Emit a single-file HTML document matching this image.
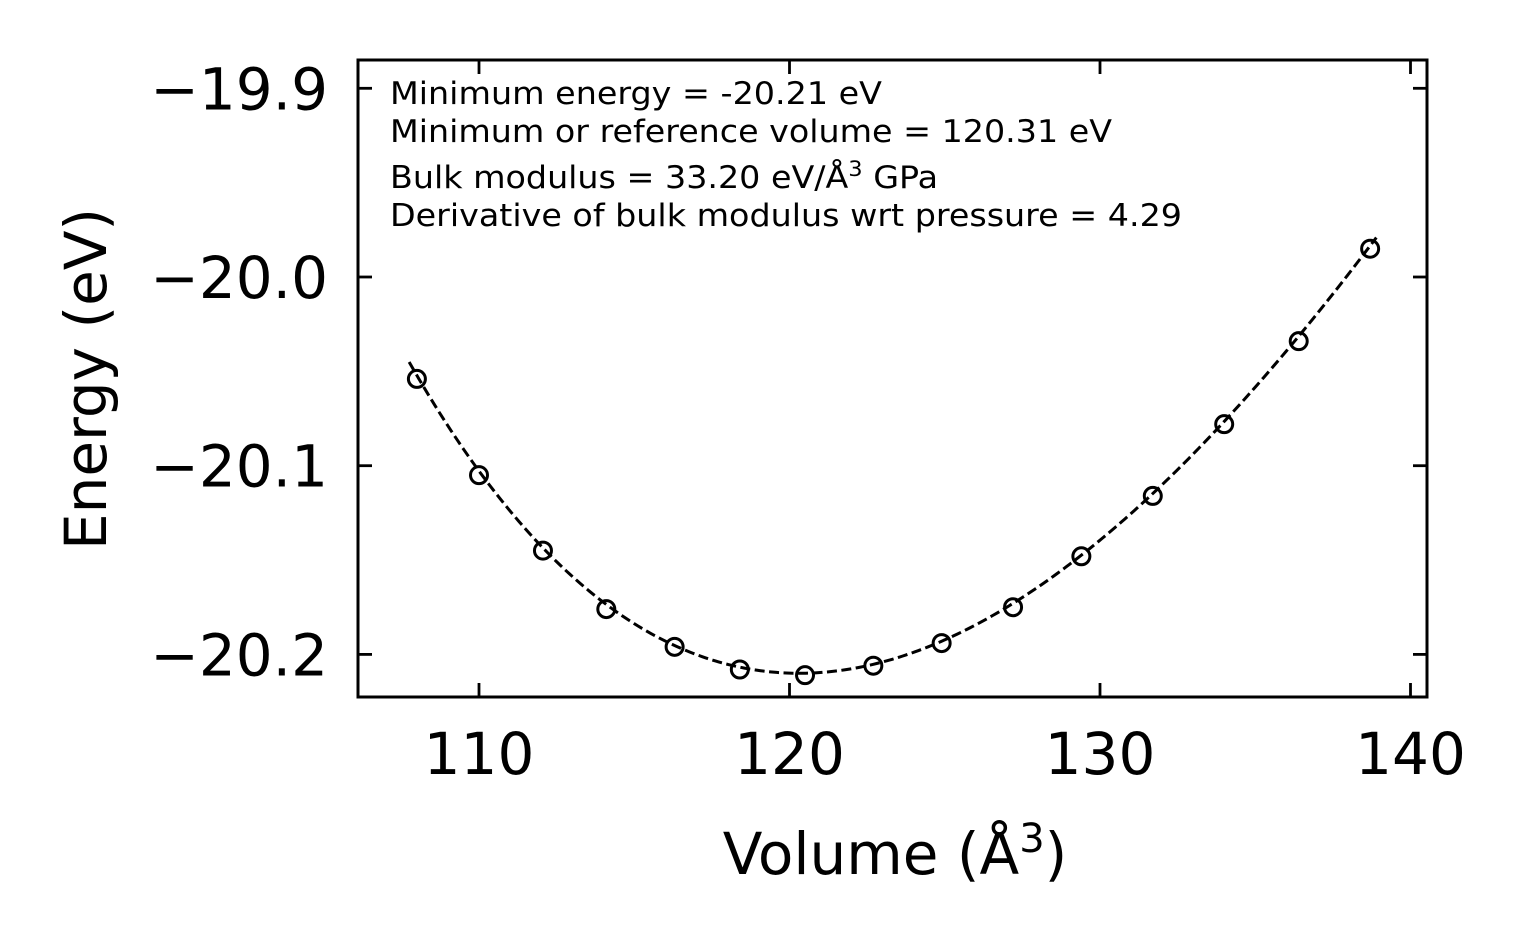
<!DOCTYPE html>
<html><head><meta charset="utf-8"><style>
html,body{margin:0;padding:0;background:#fff;}
svg{display:block;font-family:"DejaVu Sans","Liberation Sans",sans-serif;}
</style></head><body>
<svg id="chart" width="1525" height="943" xmlns="http://www.w3.org/2000/svg">
<rect x="0" y="0" width="1525" height="943" fill="#fff"/>
<g id="plot"></g>
<g id="axes"></g>
<g font-size="31" fill="#000">
<text x="390" y="104" textLength="492" lengthAdjust="spacingAndGlyphs">Minimum energy = -20.21 eV</text>
<text x="390" y="142" textLength="722" lengthAdjust="spacingAndGlyphs">Minimum or reference volume = 120.31 eV</text>
<text x="390" y="188" transform="translate(390,0) scale(1.075,1) translate(-390,0)">Bulk modulus = 33.20 eV/Å<tspan dy="-12" font-size="21">3</tspan><tspan dy="12"> GPa</tspan></text>
<text x="390" y="226" textLength="792" lengthAdjust="spacingAndGlyphs">Derivative of bulk modulus wrt pressure = 4.29</text>
</g>
<text x="895" y="874" font-size="58" text-anchor="middle">Volume (Å<tspan dy="-22" font-size="40">3</tspan><tspan dy="22">)</tspan></text>
<text transform="translate(106,379) rotate(-90)" font-size="58" text-anchor="middle">Energy (eV)</text>
</svg>
<script>
const volumes=[108.0,110.0,112.06,114.1,116.3,118.4,120.5,122.7,124.9,127.2,129.4,131.7,134.0,136.4,138.7];
const energies=[-20.054,-20.105,-20.145,-20.176,-20.196,-20.208,-20.211,-20.206,-20.194,-20.175,-20.148,-20.116,-20.078,-20.034,-19.985];
const fitParams=[-20.21,120.31,33.20,4.29];
const xTicks=[110,120,130,140];
const yTicks=[-19.9,-20.0,-20.1,-20.2];
const yTickLabels=["\u221219.9","\u221220.0","\u221220.1","\u221220.2"];
const fitRange=[107.75,138.9];

const L=358,R=1427,T=60,B=697;
const xS=v=>479+(v-110)*31.05;
const yS=e=>277+(-20.0-e)*1887;
const NS="http://www.w3.org/2000/svg";
function mk(tag,attrs,parent){const el=document.createElementNS(NS,tag);for(const k in attrs)el.setAttribute(k,attrs[k]);parent.appendChild(el);return el;}
const plot=document.getElementById('plot'),axes=document.getElementById('axes');

function bm(V){const [E0,V0,Bg,Bp]=fitParams;const Bv=Bg/160.2177;const eta=Math.pow(V0/V,2/3);const d=eta-1;return E0+9*V0*Bv/16*(d*d*d*Bp+d*d*(6-4*eta));}
let pts=[];const n=300;
for(let i=0;i<=n;i++){const v=fitRange[0]+(fitRange[1]-fitRange[0])*i/n;pts.push(xS(v).toFixed(2)+","+yS(bm(v)).toFixed(2));}
const fit=mk('polyline',{points:pts.join(' '),fill:'none',stroke:'#000','stroke-width':3,'stroke-dasharray':'10,4.5'},plot);


volumes.forEach((v,i)=>{const c=mk('circle',{cx:xS(v),cy:yS(energies[i]),r:8.5,fill:'none',stroke:'#000','stroke-width':3},plot);

});

const frame=mk('rect',{x:L,y:T,width:R-L,height:B-T,fill:'none',stroke:'#000','stroke-width':3},axes);


xTicks.forEach(t=>{const x=xS(t);
mk('line',{x1:x,y1:B,x2:x,y2:B-14,stroke:'#000','stroke-width':2.8},axes);
mk('line',{x1:x,y1:T,x2:x,y2:T+14,stroke:'#000','stroke-width':2.8},axes);
const tx=mk('text',{x:x,y:B+77,'font-size':58,'text-anchor':'middle'},axes);tx.textContent=t;

});
yTicks.forEach((t,i)=>{const y=yS(t);
mk('line',{x1:L,y1:y,x2:L+14,y2:y,stroke:'#000','stroke-width':2.8},axes);
mk('line',{x1:R,y1:y,x2:R-14,y2:y,stroke:'#000','stroke-width':2.8},axes);
const tx=mk('text',{x:328,y:y+21,'font-size':58,'text-anchor':'end'},axes);tx.textContent=yTickLabels[i];

});
</script>
</body></html>
